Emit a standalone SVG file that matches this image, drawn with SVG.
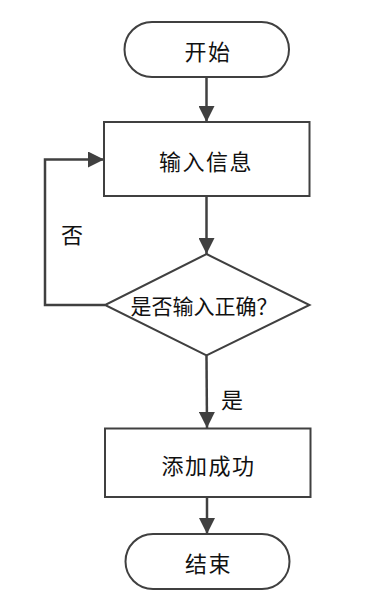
<svg xmlns="http://www.w3.org/2000/svg" width="384" height="594" viewBox="0 0 384 594">
<style>
.shape{fill:#fff;stroke:#404040;stroke-width:2}
.edge{fill:none;stroke:#404040;stroke-width:2.5}
.lbl{font-family:"Noto Sans CJK SC","Liberation Sans",sans-serif;font-size:22px;fill:#111;text-anchor:middle;dominant-baseline:central}
.sp{letter-spacing:1.5px}
.dt{font-size:21px}
</style>
<defs>
<marker id="ah" markerUnits="userSpaceOnUse" markerWidth="16" markerHeight="16" refX="16" refY="8" orient="auto">
<path d="M0,0 L16,8 L0,16 Z" fill="#404040"/>
</marker>
</defs>
<rect width="384" height="594" fill="#fff"/>
<g id="connectors">
<line class="edge" x1="206.5" y1="77" x2="206.5" y2="122" marker-end="url(#ah)"/>
<line class="edge" x1="206.5" y1="196" x2="206.5" y2="254" marker-end="url(#ah)"/>
<polyline class="edge" points="105,305 45,305 45,159.5 104,159.5" marker-end="url(#ah)"/>
<line class="edge" x1="206.5" y1="356" x2="207" y2="428" marker-end="url(#ah)"/>
<line class="edge" x1="207" y1="497" x2="207" y2="534" marker-end="url(#ah)"/>
<text class="lbl" x="72" y="233">否</text>
<text class="lbl" x="232" y="398">是</text>
</g>
<g id="start">
<rect class="shape" x="124.5" y="22" width="164.5" height="55" rx="27.5"/>
<text class="lbl sp" x="208" y="49.5">开始</text>
</g>
<g id="input">
<rect class="shape" x="104" y="122" width="205.5" height="74"/>
<text class="lbl sp" x="206" y="160">输入信息</text>
</g>
<g id="decision">
<polygon class="shape" points="206.5,254 309.5,305 206.5,355.5 105,305"/>
<text class="lbl dt" x="204" y="304.5">是否输入正确？</text>
</g>
<g id="success">
<rect class="shape" x="105" y="428.5" width="205.5" height="68.5"/>
<text class="lbl sp" x="208.5" y="463.5">添加成功</text>
</g>
<g id="end">
<rect class="shape" x="125.5" y="534" width="164" height="55" rx="27.5"/>
<text class="lbl sp" x="208.5" y="561.5">结束</text>
</g>
</svg>
